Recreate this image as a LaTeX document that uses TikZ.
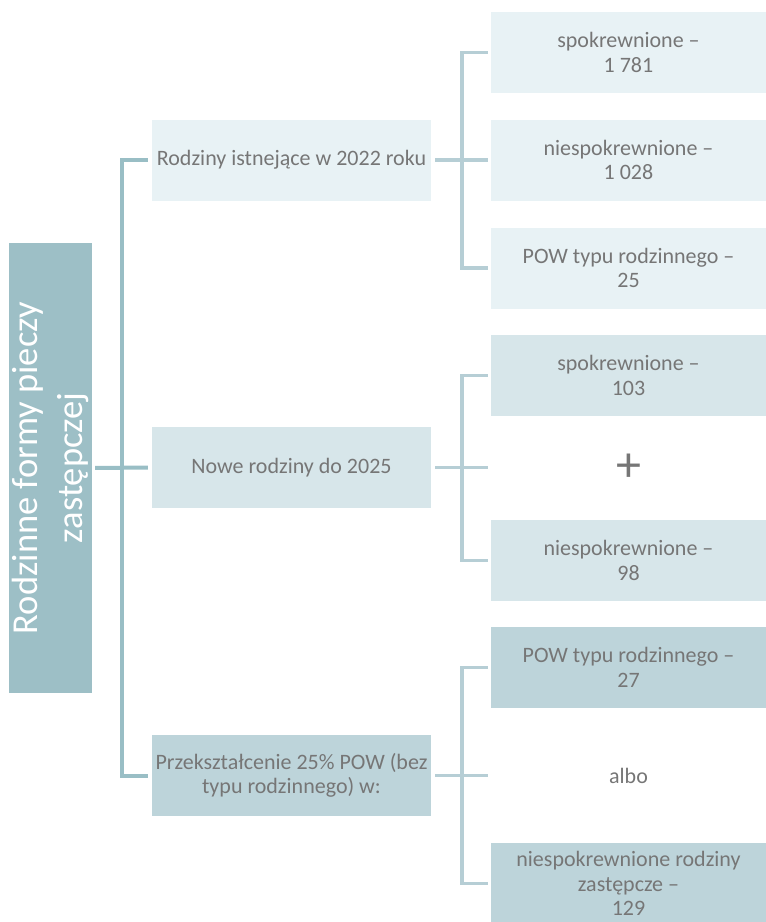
\documentclass[tikz,border=0pt]{standalone}
\usepackage{fontspec}
\setmainfont{Carlito}
\definecolor{c0}{HTML}{9DBFC6}
\definecolor{c1}{HTML}{E8F2F5}
\definecolor{c2}{HTML}{D7E6EA}
\definecolor{c3}{HTML}{BDD4DA}
\definecolor{lline}{HTML}{99BEC5}
\definecolor{rline}{HTML}{B6CED5}
\definecolor{txt}{HTML}{767676}
\begin{document}
\begin{tikzpicture}[x=1pt,y=-1pt,
  basebox/.style={rectangle, inner sep=0pt, minimum height=81pt, align=center,
    text=txt, font=\fontsize{22}{24.5}\selectfont},
  lbox/.style={basebox, minimum width=279pt},
  rbox/.style={basebox, minimum width=275pt},
  rootbox/.style={rectangle, inner sep=0pt, rotate=90, minimum width=450pt,
    minimum height=83pt, fill=c0, text=white, align=center,
    font=\fontsize{36.5}{45}\selectfont},
  lconn/.style={draw=lline, line width=4pt, line join=miter},
  rconn/.style={draw=rline, line width=3.3pt, line join=miter}]
\useasboundingbox (0,0) rectangle (766,922);
% root
\node[rootbox] (root) at (50.5,468) {Rodzinne formy pieczy\\zastępczej};
% level 1
\node[lbox, fill=c1] (l1) at (291.5,160) {Rodziny istnejące w 2022 roku};
\node[lbox, fill=c2] (l2) at (291.5,467.5) {Nowe rodziny do 2025};
\node[lbox, fill=c3] (l3) at (291.5,775.5) {Przekształcenie 25\% POW (bez\\typu rodzinnego) w:};
% level 2
\node[rbox, fill=c1] (a1) at (628.5,52.5) {spokrewnione –\\1 781};
\node[rbox, fill=c1] (a2) at (628.5,160) {niespokrewnione –\\1 028};
\node[rbox, fill=c1] (a3) at (628.5,268) {POW typu rodzinnego –\\25};
\node[rbox, fill=c2] (b1) at (628.5,375.5) {spokrewnione –\\103};
\node[rbox] (plus) at (628.5,467.5) {\fontsize{50}{50}\selectfont +};
\node[rbox, fill=c2] (b2) at (628.5,560.5) {niespokrewnione –\\98};
\node[rbox, fill=c3] (c1) at (628.5,667.5) {POW typu rodzinnego –\\27};
\node[rbox] (albo) at (628.5,775.5) {albo};
\node[rbox, fill=c3, minimum height=82pt] (c2) at (628.5,883.5) {niespokrewnione rodziny\\zastępcze –\\129};
% junctions
\coordinate (j0) at (122,467.5);
\coordinate (ja) at (462,160);
\coordinate (jb) at (462,467.5);
\coordinate (jc) at (462,775.5);
% left connectors
\draw[lconn, shorten <=4pt, shorten >=3pt] (l2.west) -- (root.south);
\draw[lconn, shorten <=4pt] (l1.west) -| (j0);
\draw[lconn, shorten <=4pt] (l3.west) -| (j0);
% right connectors
\draw[rconn, shorten <=4pt, shorten >=3pt] (l1.east) -- (a2.west);
\draw[rconn, shorten >=3pt] (ja) |- (a1.west);
\draw[rconn, shorten >=3pt] (ja) |- (a3.west);
\draw[rconn, shorten <=4pt, shorten >=3pt] (l2.east) -- (plus.west);
\draw[rconn, shorten >=3pt] (jb) |- (b1.west);
\draw[rconn, shorten >=3pt] (jb) |- (b2.west);
\draw[rconn, shorten <=4pt, shorten >=3pt] (l3.east) -- (albo.west);
\draw[rconn, shorten >=3pt] (jc) |- (c1.west);
\draw[rconn, shorten >=3pt] (jc) |- (c2.west);
\end{tikzpicture}
\end{document}
